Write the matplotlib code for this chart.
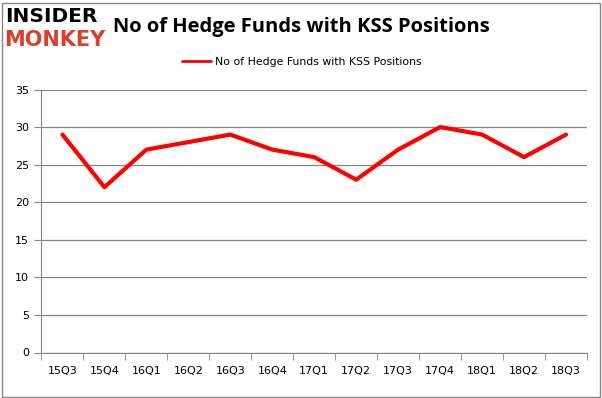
import matplotlib
matplotlib.use("Agg")
import matplotlib.pyplot as plt
from matplotlib.patches import Rectangle

quarters = ["15Q3", "15Q4", "16Q1", "16Q2", "16Q3", "16Q4", "17Q1",
            "17Q2", "17Q3", "17Q4", "18Q1", "18Q2", "18Q3"]
funds = [29, 22, 27, 28, 29, 27, 26, 23, 27, 30, 29, 26, 29]
yticks = [0, 5, 10, 15, 20, 25, 30, 35]
series_name = "No of Hedge Funds with KSS Positions"

W, H = 602, 398
fig = plt.figure(figsize=(W / 100, H / 100), dpi=100)
fig.patch.set_facecolor("white")

# outer border
fig.patches.append(Rectangle((1.5 / W, 1.5 / H), (W - 4) / W, (H - 4) / H,
                             transform=fig.transFigure, fill=False,
                             edgecolor="#888888", linewidth=1.0))

left, right, top, bottom = 41.5, 587, 89.5, 352.5
ax = fig.add_axes([left / W, 1 - bottom / H, (right - left) / W, (bottom - top) / H])

x = list(range(len(quarters)))
ax.plot(x, funds, color="#ff0000", linewidth=3, solid_joinstyle="round",
        solid_capstyle="round", label=series_name)

ax.set_xlim(-0.5, len(quarters) - 0.5)
ax.set_ylim(0, 35)
ax.set_yticks(yticks)
ax.set_yticklabels([str(v) for v in yticks])
ax.set_xticks(x)
ax.set_xticklabels(quarters)
ax.set_xticks([i - 0.5 for i in range(len(quarters) + 1)], minor=True)

ax.grid(axis="y", color="#868686", linewidth=0.9)
ax.set_axisbelow(True)
for s in ["top", "right"]:
    ax.spines[s].set_visible(False)
ax.spines["left"].set_color("#868686")
ax.spines["bottom"].set_color("#868686")
ax.tick_params(axis="x", which="major", length=0, pad=10, labelsize=8, colors="black")
ax.tick_params(axis="x", which="minor", length=5, color="#868686", direction="out")
ax.tick_params(axis="y", length=5, color="#868686", pad=4, labelsize=8, colors="black")
for lbl in ax.get_xticklabels() + ax.get_yticklabels():
    lbl.set_family("DejaVu Sans")

# title
fig.text(113 / W, 1 - 27 / H, "No of Hedge Funds with KSS Positions",
         fontsize=14.5, fontweight="bold", family="Open Sans", va="center", ha="left")

# logo
fig.text(5 / W, 1 - 17 / H, "INSIDER", fontsize=14.5, fontweight="black",
         family="DejaVu Sans", color="black", va="center", ha="left")
fig.text(4 / W, 1 - 40 / H, "MONKEY", fontsize=15, fontweight="black",
         family="DejaVu Sans", color="#d9402b", va="center", ha="left")

# legend
leg = fig.legend(loc="center", bbox_to_anchor=(302 / W, 1 - 62 / H), frameon=False,
                 fontsize=7.8, handlelength=2.6, handletextpad=0.4)
for h in leg.legend_handles:
    h.set_linewidth(2)

fig.savefig("out.png", dpi=100, facecolor="white")
